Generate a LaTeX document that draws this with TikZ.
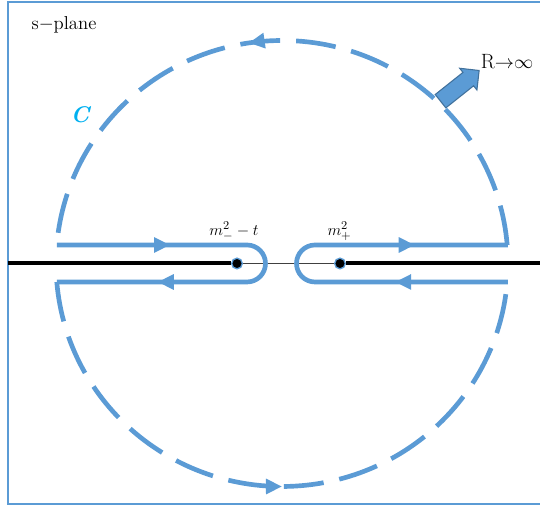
\documentclass[tikz,border=0pt]{standalone}
\usepackage{amsmath,amssymb}
\usepackage{xcolor}
\usepackage{tikz}
\usetikzlibrary{
  arrows.meta, decorations.markings, shapes.arrows
}
\definecolor{contourblue}{HTML}{5B9BD5}
\definecolor{arrowedge}{HTML}{41719C}
\definecolor{labelcyan}{HTML}{00B0F0}
\tikzset{
  frameline/.style={
    draw=contourblue, line width=1.5pt
  },
  cutline/.style={
    draw=black, line width=3pt
  },
  gapline/.style={
    draw=black!75, line width=0.6pt
  },
  contour/.style={
    draw=contourblue, line width=3.5pt
  },
  bigcircle/.style={
    contour, dash pattern=on 30pt off 12pt
  },
  flowtip/.style={
    postaction={decorate, decoration={markings,
      mark=at position #1 with {\arrow{Triangle[length=12pt, width=11pt]}}}}
  },
  pole/.style={
    circle, fill=black, draw=contourblue, line width=1pt,
    inner sep=0pt, minimum size=8pt
  },
  planelabel/.style={
    font=\fontsize{14}{16}\selectfont, inner sep=0pt
  },
  polelabel/.style={
    font=\fontsize{13}{15}\selectfont, inner sep=0pt
  },
  growarrow/.style={
    single arrow, fill=contourblue, draw=arrowedge, line width=0.8pt,
    minimum height=37pt, inner sep=6pt,
    single arrow head extend=4pt
  },
}

\begin{document}
\begin{tikzpicture}[x=0.75pt, y=0.75pt]
  \useasboundingbox (-282,-245.5) rectangle (258,263.5);

  % ── Frame ──
  \draw[frameline] (300,261) -- (-274,261) -- (-274,-240.5) -- (300,-240.5);

  % ── Poles and real axis ──
  \node[pole] (mminus) at (-45,0) {};
  \node[pole] (mplus) at (58,0) {};
  \coordinate (axisleft) at (-274,0);
  \coordinate (axisright) at (300,0);
  \draw[cutline] (axisleft) -- (mminus);
  \draw[gapline] (mminus) -- (mplus);
  \draw[cutline] (mplus) -- (axisright);

  % ── Labels ──
  \node[planelabel] (splane) at (-218,238.5) {s$-$plane};
  \node[polelabel] (mminuslabel) at (-48,32.5) {$m_-^2-t$};
  \node[polelabel] (mpluslabel) at (57.5,32.5) {$m_+^2$};
  \node[font=\fontsize{17}{19}\selectfont\bfseries\itshape, text=labelcyan] (clabel) at (-202,148.5) {C};
  \node[font=\fontsize{15.5}{18}\selectfont, inner sep=0pt] (rlabel) at (225,201.5) {R${\rightarrow}{\infty}$};
  \node[growarrow, rotate=38.5] (grow) at (174.5,175) {};

  % ── Keyhole around the cuts ──
  \draw[contour, flowtip=0.258, flowtip=0.77]
    (-225,18.5) -- (-35,18.5) arc[start angle=90, end angle=-90, radius=18.5] -- (-225,-18.5);
  \draw[contour, flowtip=0.254, flowtip=0.79]
    (226,-18.5) -- (33,-18.5) arc[start angle=270, end angle=90, radius=18.5] -- (226,18.5);

  % ── Large circle ──
  \draw[bigcircle, flowtip=0.55]
    (4.76:226 and 223) arc[start angle=4.76, end angle=175.24, x radius=226, y radius=223];
  \draw[bigcircle, flowtip=0.5]
    (184.76:226 and 223) arc[start angle=184.76, end angle=355.24, x radius=226, y radius=223];
\end{tikzpicture}
\end{document}
